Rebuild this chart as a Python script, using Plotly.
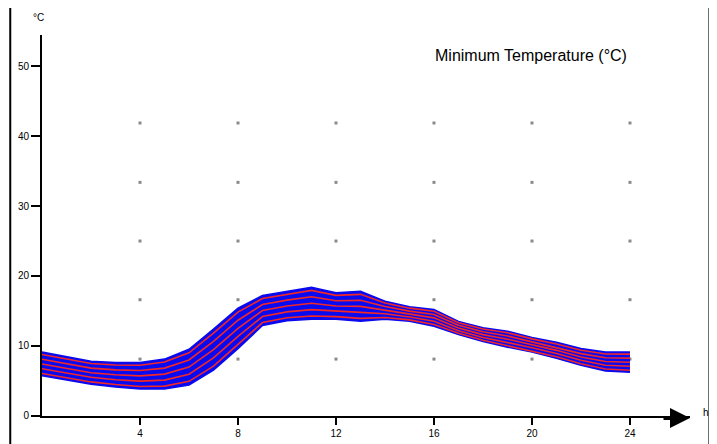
import plotly.graph_objects as go

# Data
hours = list(range(0, 25))
upper = [9.1, 8.4, 7.8, 7.6, 7.6, 8.1, 9.5, 12.4, 15.4, 17.2, 17.8, 18.4, 17.6,
         17.8, 16.4, 15.6, 15.2, 13.5, 12.6, 12.1, 11.2, 10.5, 9.6, 9.1, 9.1]
lower = [5.7, 5.1, 4.5, 4.1, 3.8, 3.8, 4.4, 6.5, 9.6, 12.9, 13.6, 13.8, 13.8,
         13.5, 13.8, 13.5, 12.8, 11.6, 10.6, 9.8, 9.1, 8.2, 7.2, 6.4, 6.2]
x_ticks = [4, 8, 12, 16, 20, 24]
y_ticks = [0, 10, 20, 30, 40, 50]
dot_x = [4, 8, 12, 16, 20, 24]
dot_y = [8.1, 16.6, 25.0, 33.4, 41.9]
stripe_fracs = [0.1, 0.3, 0.5, 0.7, 0.9]
title_text = "Minimum Temperature (°C)"

BLUE = "#0a0af0"
RED = "#f02828"

fig = go.Figure()

# grid dots
gx, gy = [], []
for xv in dot_x:
    for yv in dot_y:
        gx.append(xv)
        gy.append(yv)
fig.add_trace(go.Scatter(x=gx, y=gy, mode="markers",
                         marker=dict(size=3, color="#8a8a8a", symbol="square"),
                         hoverinfo="skip", showlegend=False))

# band
fig.add_trace(go.Scatter(x=hours, y=lower, mode="lines",
                         line=dict(color=BLUE, width=1.5), showlegend=False))
fig.add_trace(go.Scatter(x=hours, y=upper, mode="lines", fill="tonexty",
                         fillcolor=BLUE, line=dict(color=BLUE, width=1.5),
                         showlegend=False))

# red stripes inside the band
for f in stripe_fracs:
    ys = [lo + f * (up - lo) for lo, up in zip(lower, upper)]
    fig.add_trace(go.Scatter(x=hours, y=ys, mode="lines",
                             line=dict(color=RED, width=1.6), showlegend=False))

fig.update_layout(
    width=709, height=436,
    margin=dict(l=34, r=27, t=27, b=28, autoexpand=False),
    paper_bgcolor="white", plot_bgcolor="white",
    font=dict(family="Liberation Sans, Arial, sans-serif", size=10, color="black"),
    showlegend=False,
    xaxis=dict(range=[0, 26.45], tickvals=x_ticks, ticktext=[str(v) for v in x_ticks],
               showgrid=False, zeroline=False, showline=True, linecolor="black",
               linewidth=2, ticks="outside", ticklen=7, tickwidth=2, tickcolor="black",
               automargin=False, tickfont=dict(size=10, color="black")),
    yaxis=dict(range=[-0.05, 54.5], tickvals=y_ticks, ticktext=[str(v) for v in y_ticks],
               showgrid=False, zeroline=False, showline=True, linecolor="black",
               linewidth=2, ticks="outside", ticklen=9, tickwidth=2, tickcolor="black",
               automargin=False, tickfont=dict(size=10, color="black")),
    annotations=[
        dict(text=title_text, x=0.755, y=0.945, xref="paper", yref="paper",
             xanchor="center", yanchor="middle", showarrow=False,
             font=dict(size=16, color="black")),
        dict(text="°C", x=-0.005, y=1.045, xref="paper", yref="paper",
             xanchor="center", yanchor="middle", showarrow=False,
             font=dict(size=10, color="black")),
        dict(text="h", x=1.025, y=0.01, xref="paper", yref="paper",
             xanchor="center", yanchor="middle", showarrow=False,
             font=dict(size=10, color="black")),
        dict(x=1.0, y=-0.005, xref="paper", yref="paper", ax=-28, ay=0,
             text="", showarrow=True, arrowhead=2, arrowsize=1.0,
             arrowwidth=4, arrowcolor="black"),
    ],
    shapes=[
        dict(type="rect", xref="paper", yref="paper",
             x0=-0.049, x1=1.03, y0=-0.09, y1=1.076,
             line=dict(color="black", width=2), fillcolor="rgba(0,0,0,0)"),
    ],
)

fig.write_html("out.html")
